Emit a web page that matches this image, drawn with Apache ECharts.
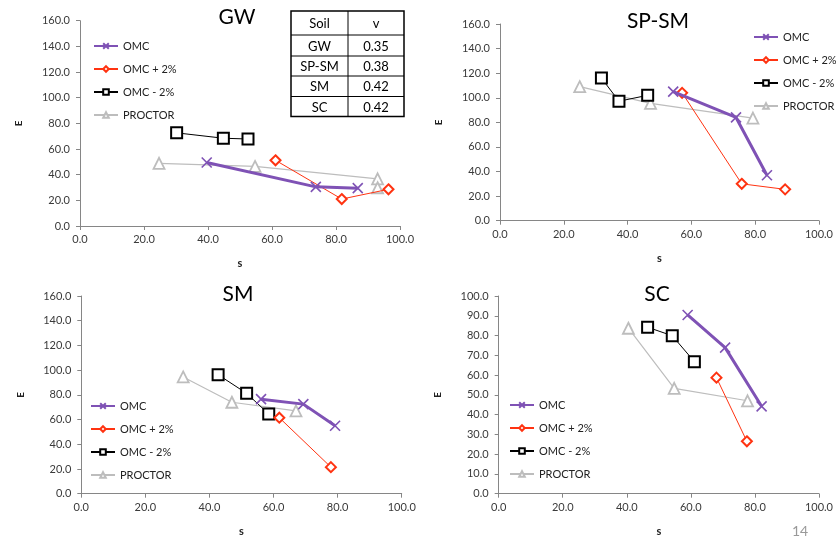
<!DOCTYPE html>
<html>
<head>
<meta charset="utf-8">
<script src="https://cdn.jsdelivr.net/npm/echarts@6/dist/echarts.min.js"></script>
<style>
  html, body { margin: 0; padding: 0; background: #fff; }
  #main { width: 836px; height: 539px; }
</style>
</head>
<body>
<div id="main"></div>
<script>
// data, [s, E]
var seriesNames = ['OMC', 'OMC + 2%', 'OMC - 2%', 'PROCTOR'];
var soilTitles = ['GW', 'SP-SM', 'SM', 'SC'];

var gwOmc = [[39.6, 49.5], [73.7, 30.5], [86.8, 29.5]];
var gwPlus = [[61.1, 51.2], [81.8, 21.0], [96.4, 28.6]];
var gwMinus = [[30.2, 72.6], [44.8, 68.4], [52.5, 67.8]];
var gwProctor = [[24.7, 48.8], [54.7, 46.4], [93.0, 36.8], [93.0, 29.8]];

var spOmc = [[54.3, 105.0], [74.0, 84.0], [83.7, 37.0]];
var spPlus = [[57.1, 104.0], [75.8, 30.0], [89.4, 25.5]];
var spMinus = [[31.8, 116.0], [37.3, 97.2], [46.3, 102.0]];
var spProctor = [[25.0, 109.0], [47.2, 95.5], [79.3, 83.5]];

var smOmc = [[56.1, 76.5], [69.3, 72.5], [79.2, 55.0]];
var smPlus = [[61.8, 61.5], [77.9, 21.5]];
var smMinus = [[42.7, 96.3], [51.6, 81.2], [58.5, 64.5]];
var smProctor = [[31.8, 94.5], [47.0, 74.0], [67.0, 67.0]];

var scOmc = [[59.0, 90.4], [70.7, 73.9], [82.1, 44.2]];
var scPlus = [[68.0, 58.7], [77.5, 26.5]];
var scMinus = [[46.5, 84.2], [54.2, 79.9], [61.1, 66.8]];
var scProctor = [[40.5, 83.7], [54.8, 53.3], [77.7, 47.0]];

var yMaxes = [160, 160, 160, 100];
var yIntervals = [20, 20, 20, 10];

var tableHead = ['Soil', 'v'];
var tableSoils = ['GW', 'SP-SM', 'SM', 'SC'];
var tableNu = ['0.35', '0.38', '0.42', '0.42'];

var pageNumber = '14';

var allData = [
  [gwOmc, gwPlus, gwMinus, gwProctor],
  [spOmc, spPlus, spMinus, spProctor],
  [smOmc, smPlus, smMinus, smProctor],
  [scOmc, scPlus, scMinus, scProctor]
];

var chart = echarts.init(document.getElementById('main'));

var FONT = 'Lato, "Open Sans", sans-serif';
var purple = '#7F52B5';
var red = '#FF3311';
var gray = '#BDBDBD';

var grids = [
  { left: 80, right: 436, top: 20.7, bottom: 313 },
  { left: 500, right: 15, top: 24, bottom: 318.3 },
  { left: 81.3, right: 434.3, top: 296, bottom: 45.3 },
  { left: 498.7, right: 15, top: 296, bottom: 45.3 }
];

var legendPos = [
  { left: 93, top: 39 },
  { left: 753, top: 30 },
  { left: 90, top: 399 },
  { left: 509, top: 398 }
];

// 标题位置
var titlePos = [[237, 17], [658, 21], [238, 294], [657, 294]];

var styles = [
  {
    symbol: 'path://M0,0L10,10M10,0L0,10', symbolSize: 10,
    itemStyle: { color: 'rgba(0,0,0,0)', borderColor: purple, borderWidth: 1.6 },
    lineStyle: { color: purple, width: 3 }
  },
  {
    symbol: 'diamond', symbolSize: 10,
    itemStyle: { color: '#fff', borderColor: red, borderWidth: 2 },
    lineStyle: { color: red, width: 1 }
  },
  {
    symbol: 'rect', symbolSize: 11,
    itemStyle: { color: '#fff', borderColor: '#000', borderWidth: 2 },
    lineStyle: { color: '#000', width: 1 }
  },
  {
    symbol: 'triangle', symbolSize: 11,
    itemStyle: { color: '#fff', borderColor: gray, borderWidth: 1.8 },
    lineStyle: { color: gray, width: 1.2 }
  }
];

var xAxes = [], yAxes = [], series = [], legends = [], graphics = [];

for (var g = 0; g < 4; g++) {
  xAxes.push({
    type: 'value', gridIndex: g, min: 0, max: 100, interval: 20,
    name: 's', nameLocation: 'middle', nameGap: 32,
    nameTextStyle: { fontFamily: FONT, fontSize: 11, fontWeight: 'bold', color: '#222' },
    axisLine: { show: true, lineStyle: { color: '#868686', width: 1 } },
    axisTick: { show: true, length: 4, lineStyle: { color: '#868686' } },
    splitLine: { show: false },
    axisLabel: {
      fontFamily: FONT, fontSize: 11, color: '#3a3a3a', margin: 8,
      formatter: function(v) { return v.toFixed(1); }
    }
  });
  yAxes.push({
    type: 'value', gridIndex: g, min: 0, max: yMaxes[g], interval: yIntervals[g],
    name: 'E', nameLocation: 'middle', nameGap: 56, nameRotate: 90,
    nameTextStyle: { fontFamily: FONT, fontSize: 10, fontWeight: 'bold', color: '#222' },
    axisLine: { show: true, lineStyle: { color: '#868686', width: 1 } },
    axisTick: { show: true, length: 4, lineStyle: { color: '#868686' } },
    splitLine: { show: false },
    axisLabel: {
      fontFamily: FONT, fontSize: 11, color: '#3a3a3a', margin: 10,
      formatter: function(v) { return v.toFixed(1); }
    }
  });
  for (var k = 0; k < 4; k++) {
    var st = styles[k];
    series.push({
      type: 'line', name: seriesNames[k],
      xAxisIndex: g, yAxisIndex: g,
      data: allData[g][k],
      symbol: st.symbol, symbolSize: st.symbolSize,
      itemStyle: st.itemStyle, lineStyle: st.lineStyle,
      z: 10 - k,
      animation: false
    });
  }
  legends.push({
    data: seriesNames, orient: 'vertical', padding: 0,
    left: legendPos[g].left, top: legendPos[g].top,
    itemWidth: 24, itemHeight: 7, itemGap: 9,
    textStyle: { fontFamily: FONT, fontSize: 11, color: '#222', lineHeight: 14 },
    selectedMode: false
  });
  graphics.push({
    type: 'text', x: titlePos[g][0], y: titlePos[g][1],
    style: {
      text: soilTitles[g], fontFamily: FONT, fontSize: 21, fill: '#000',
      align: 'center', verticalAlign: 'middle'
    }
  });
}

// 表格
var tx = [291, 348, 404];
var ty = [11, 35, 56, 76, 96.5, 116.5];
var rows = [tableHead].concat(tableSoils.map(function(s, i) { return [s, tableNu[i]]; }));
graphics.push({
  type: 'rect', shape: { x: tx[0], y: ty[0], width: tx[2] - tx[0], height: ty[5] - ty[0] },
  style: { fill: '#fff', stroke: '#000', lineWidth: 1.5 }, z: 20
});
graphics.push({
  type: 'line', shape: { x1: tx[1], y1: ty[0], x2: tx[1], y2: ty[5] },
  style: { stroke: '#000', lineWidth: 1 }, z: 21
});
for (var r = 1; r < 5; r++) {
  graphics.push({
    type: 'line', shape: { x1: tx[0], y1: ty[r], x2: tx[2], y2: ty[r] },
    style: { stroke: '#000', lineWidth: 1 }, z: 21
  });
}
for (var r = 0; r < rows.length; r++) {
  for (var c = 0; c < 2; c++) {
    graphics.push({
      type: 'text', z: 22,
      x: (tx[c] + tx[c + 1]) / 2, y: (ty[r] + ty[r + 1]) / 2 + 1,
      style: {
        text: rows[r][c], fontFamily: FONT, fontSize: 13, fill: '#000',
        align: 'center', verticalAlign: 'middle'
      }
    });
  }
}

graphics.push({
  type: 'text', x: 800, y: 531,
  style: { text: pageNumber, fontFamily: FONT, fontSize: 14, fill: '#999', align: 'center', verticalAlign: 'middle' }
});

chart.setOption({
  backgroundColor: '#fff',
  animation: false,
  grid: grids,
  xAxis: xAxes,
  yAxis: yAxes,
  legend: legends,
  series: series,
  graphic: graphics
});
</script>
</body>
</html>
